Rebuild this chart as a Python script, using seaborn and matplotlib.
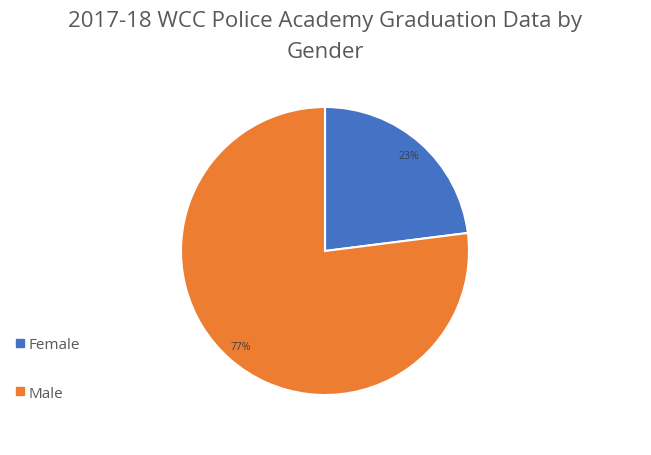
import matplotlib
matplotlib.use("Agg")
import matplotlib.pyplot as plt
from matplotlib.lines import Line2D
import seaborn as sns

# data
labels = ['Female', 'Male']
shares = [23, 77]
colors = ['#4472C4', '#ED7D31']

sns.set_theme(style='white')
plt.rcParams['font.family'] = ['Open Sans', 'DejaVu Sans']

fig = plt.figure(figsize=(6.51, 4.56), dpi=100)
fig.patch.set_facecolor('white')

# pie centre ~ (325, 252) px, radius ~144 px
ax = fig.add_axes([(325 - 144) / 651, (456 - 396) / 456, 288 / 651, 288 / 456])
pal = sns.color_palette(colors)
wedges, texts, autotexts = ax.pie(
    shares, colors=pal, startangle=90, counterclock=False,
    autopct='%1.0f%%', pctdistance=0.88,
    wedgeprops=dict(edgecolor='white', linewidth=1.5),
    textprops=dict(fontsize=7.5, color='#404040'))
ax.set_xlim(-1, 1)
ax.set_ylim(-1, 1)
ax.set_aspect('equal')
ax.axis('off')

fig.text(0.5, 1 - 21 / 456, '2017-18 WCC Police Academy Graduation Data by',
         ha='center', va='center', fontsize=16, color='#595959')
fig.text(0.5, 1 - 52 / 456, 'Gender',
         ha='center', va='center', fontsize=16, color='#595959')

handles = [Line2D([], [], marker='s', linestyle='', markersize=6,
                  markerfacecolor=c, markeredgecolor=c) for c in colors]
leg = fig.legend(handles, labels, loc='center left',
                 bbox_to_anchor=(6 / 651, 1 - 370 / 456), frameon=False,
                 fontsize=11, labelspacing=2.2, handletextpad=0.1,
                 handlelength=1.0, borderaxespad=0)
for t in leg.get_texts():
    t.set_color('#595959')

fig.savefig('out.png', dpi=100)
